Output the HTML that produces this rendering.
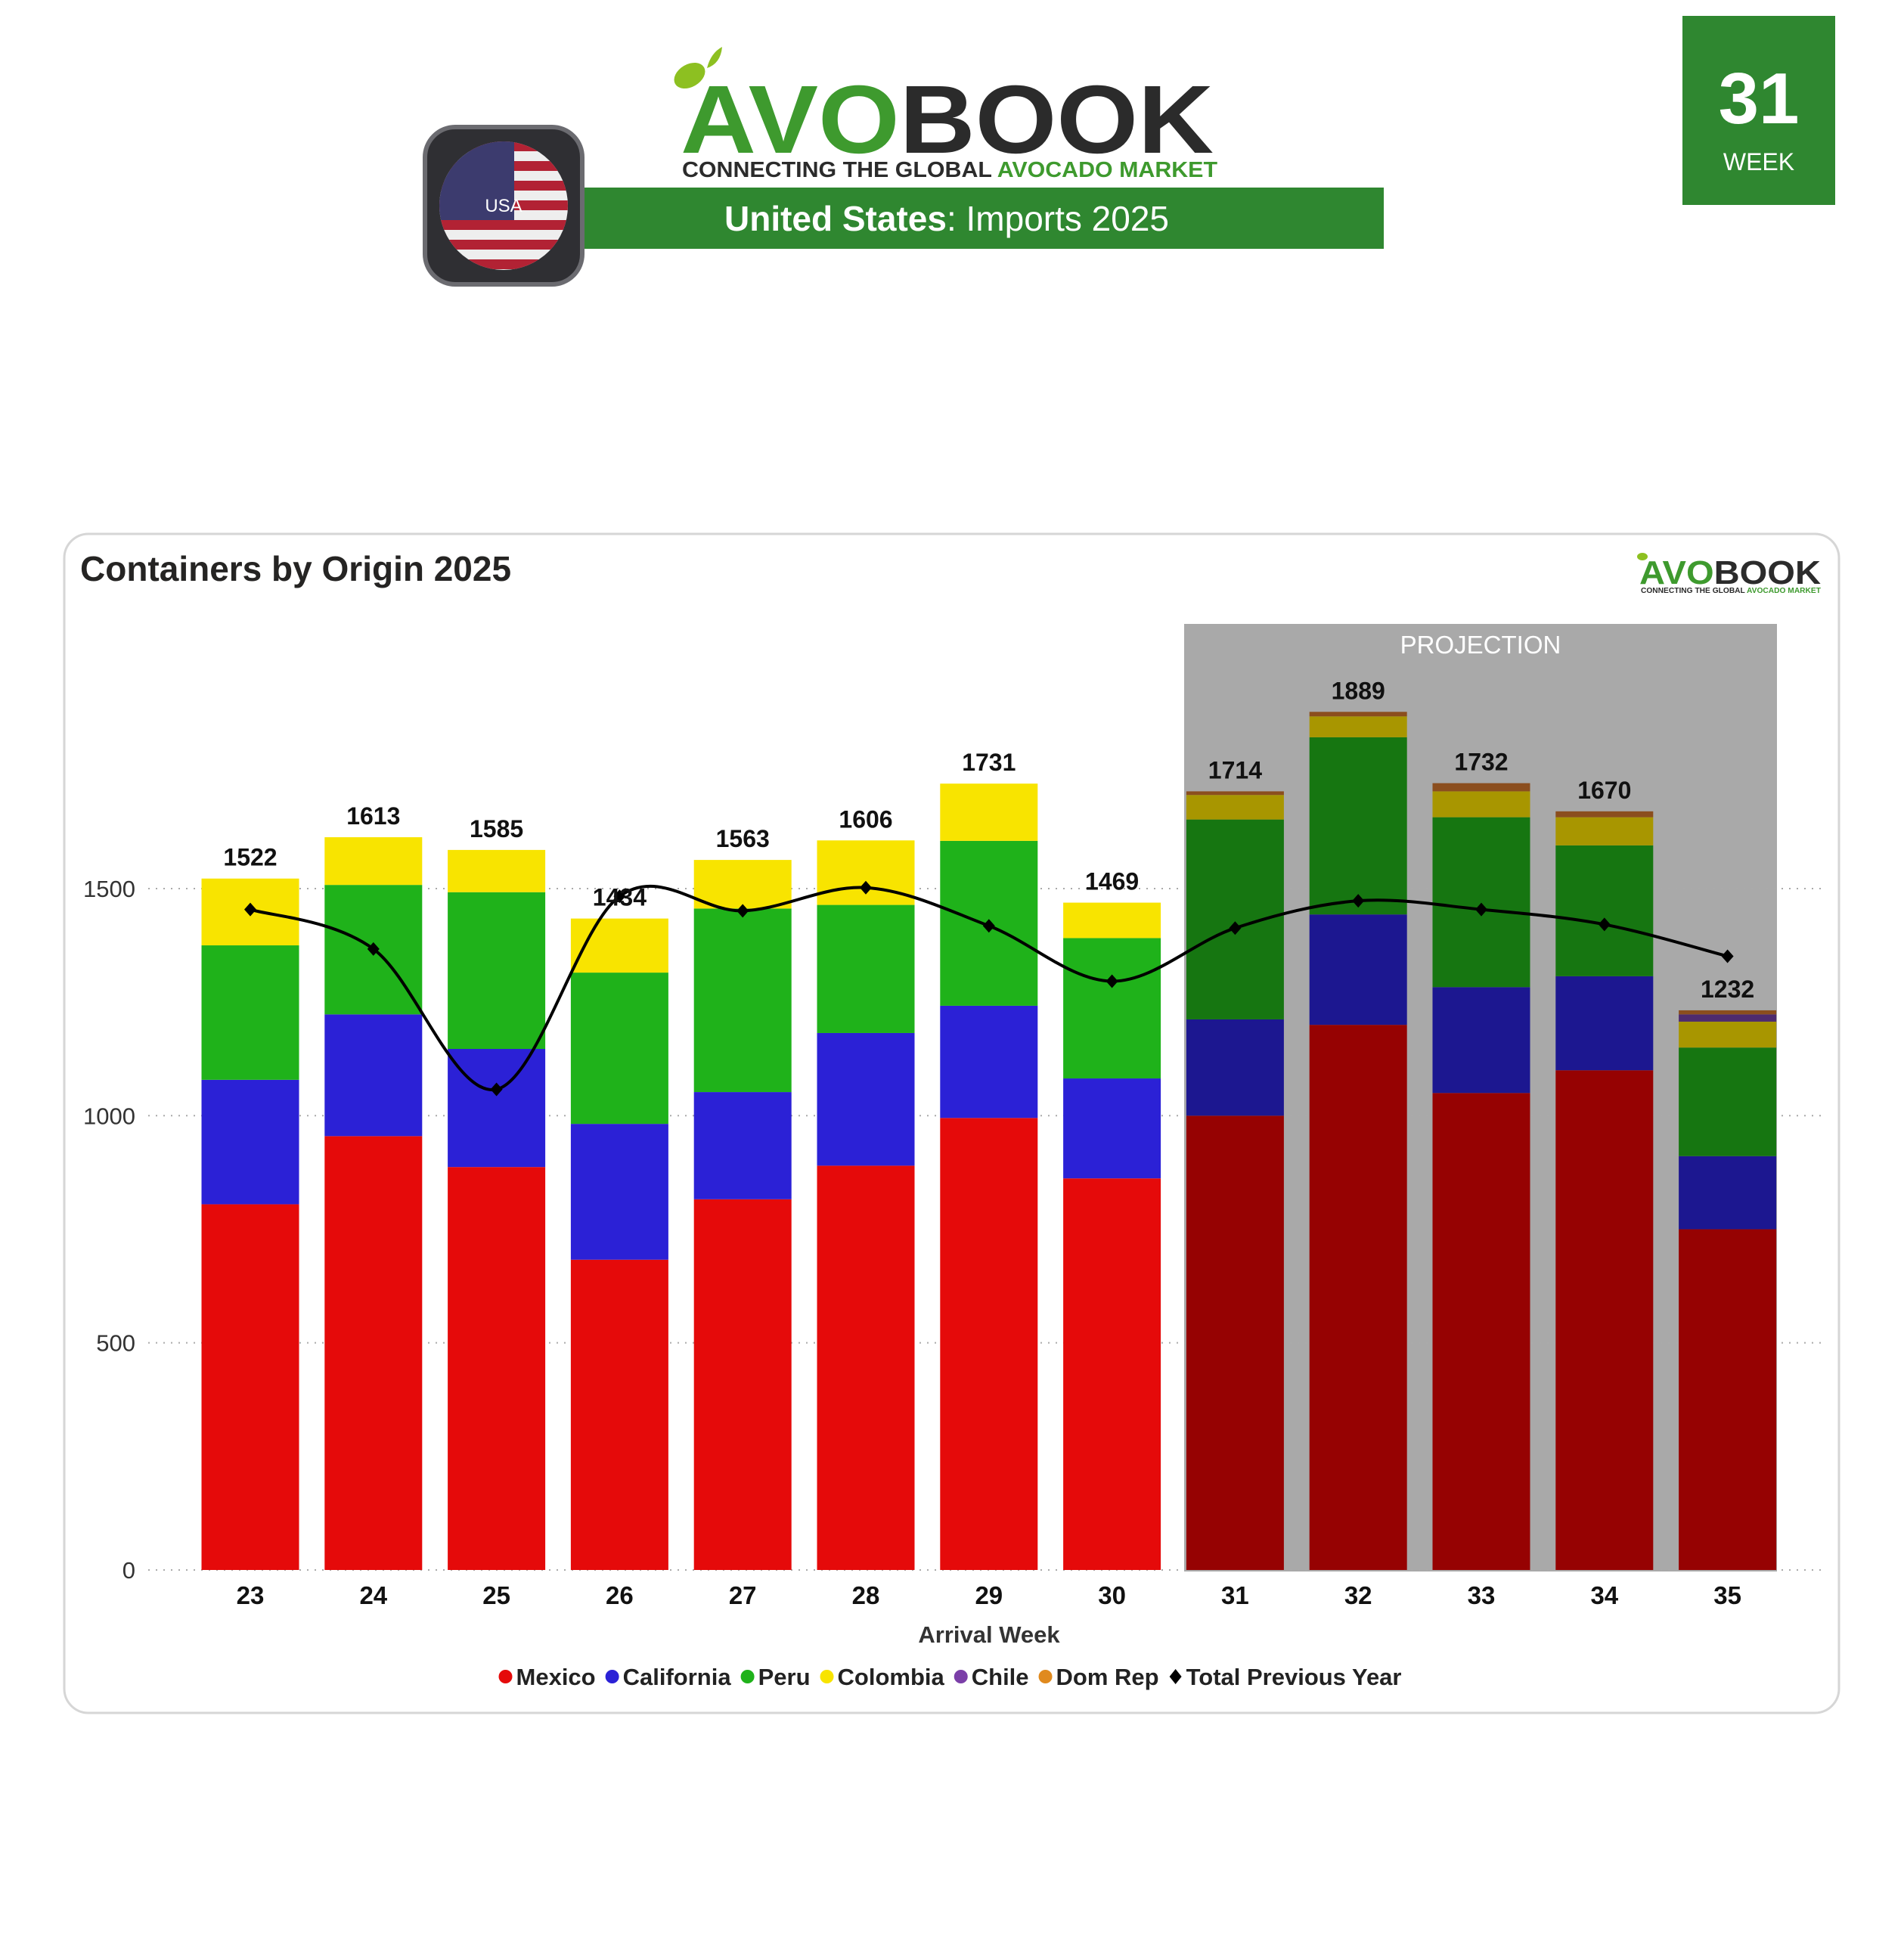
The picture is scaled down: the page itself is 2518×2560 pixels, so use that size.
<!DOCTYPE html>
<html><head><meta charset="utf-8">
<style>
html,body{margin:0;padding:0;background:#fff;}
svg{display:block;font-family:"Liberation Sans",sans-serif;}
</style></head>
<body>
<svg id="chart" width="2518" height="2560" viewBox="0 0 2518 2560" xmlns="http://www.w3.org/2000/svg">
  <g>
    <g>
      <ellipse cx="912" cy="100" rx="22" ry="15" fill="#8DC021" transform="rotate(-30 912 100)"/>
      <path d="M935 90 q5 -20 20 -28 q-2 22 -20 28z" fill="#8DC021"/>
      <text x="900" y="202" font-size="128" font-weight="bold" fill="#3E9A2E" textLength="705" lengthAdjust="spacingAndGlyphs">AVO<tspan fill="#2B2B2B">BOOK</tspan></text>
      <text x="902" y="234" font-size="29" font-weight="bold" fill="#2B2B2B" textLength="708" lengthAdjust="spacingAndGlyphs">CONNECTING THE GLOBAL <tspan fill="#3E9A2E">AVOCADO MARKET</tspan></text>
    </g>
    <rect x="766" y="248" width="1064" height="81" fill="#2F8730"/>
    <text x="1252" y="305" font-size="46" fill="#fff" text-anchor="middle"><tspan font-weight="bold">United States</tspan>: Imports 2025</text>
    <g>
      <rect x="562" y="168" width="208" height="208" rx="40" fill="#2f2f33" stroke="#6b6b70" stroke-width="6"/>
      <defs><clipPath id="fc"><circle cx="666" cy="272" r="85"/></clipPath></defs>
      <g clip-path="url(#fc)">
        <rect x="580" y="187" width="175" height="170" fill="#eee"/>
        <rect x="580" y="187" width="175" height="13" fill="#B22234"/>
        <rect x="580" y="213" width="175" height="13" fill="#B22234"/>
        <rect x="580" y="239" width="175" height="13" fill="#B22234"/>
        <rect x="580" y="265" width="175" height="13" fill="#B22234"/>
        <rect x="580" y="291" width="175" height="13" fill="#B22234"/>
        <rect x="580" y="317" width="175" height="13" fill="#B22234"/>
        <rect x="580" y="343" width="175" height="13" fill="#B22234"/>
        <rect x="580" y="187" width="100" height="104" fill="#3C3B6E"/>
      </g>
      <text x="666" y="280" font-size="24" fill="#fff" text-anchor="middle">USA</text>
    </g>
    <g>
      <rect x="2225" y="21" width="202" height="250" fill="#2F8730"/>
      <text x="2326" y="163" font-size="96" font-weight="bold" fill="#fff" text-anchor="middle">31</text>
      <text x="2326" y="225" font-size="32" fill="#fff" text-anchor="middle">WEEK</text>
    </g>
  </g>
  <rect x="85" y="706" width="2347" height="1559" rx="32" fill="#fff" stroke="#d6d6d6" stroke-width="3"/>
  <text x="106" y="768" font-size="46" font-weight="bold" fill="#252423">Containers by Origin 2025</text>
  <g>
    <ellipse cx="2172" cy="736" rx="7" ry="5" fill="#8DC021"/>
    <text x="2168" y="772" font-size="44" font-weight="bold" fill="#3E9A2E" textLength="240" lengthAdjust="spacingAndGlyphs">AVO<tspan fill="#2B2B2B">BOOK</tspan></text>
    <text x="2170" y="784" font-size="10" font-weight="bold" fill="#2B2B2B" textLength="238" lengthAdjust="spacingAndGlyphs">CONNECTING THE GLOBAL <tspan fill="#3E9A2E">AVOCADO MARKET</tspan></text>
  </g>
  <rect x="1566" y="825" width="784" height="1253" fill="#A9A9A9"/>
  <text x="1958" y="864" font-size="33" fill="#fff" text-anchor="middle">PROJECTION</text>
  <g id="grid"></g>
  <g id="bars"></g>
  <g id="line"></g>
  <g id="labels"></g>
  <text x="1308" y="2172" font-size="31" font-weight="bold" fill="#333" text-anchor="middle">Arrival Week</text>
  <g id="legend"></g>
</svg>
<script>
const weeks = [23,24,25,26,27,28,29,30,31,32,33,34,35];
const mexico = [805,955,887,683,816,890,995,862,1000,1200,1050,1100,750];
const california = [274,268,260,299,236,292,247,220,212,243,233,207,161];
const peru = [296,285,345,333,404,282,363,309,440,390,374,288,239];
const colombia = [147,105,93,119,107,142,126,78,54,46,57,62,57];
const chile = [0,0,0,0,0,0,0,0,0,0,0,0,16];
const domRep = [0,0,0,0,0,0,0,0,8,10,18,13,9];
const totals = [1522,1613,1585,1434,1563,1606,1731,1469,1714,1889,1732,1670,1232];
const prevYear = [1454,1367,1058,1483,1451,1502,1418,1296,1413,1473,1454,1421,1351];
const yTicks = [0,500,1000,1500];
const projectionStart = 31;

const NS = "http://www.w3.org/2000/svg";
const y0 = 2076, pxPer = 0.6007;
const yScale = v => y0 - v * pxPer;
const xScale = i => 331 + i * 162.8;
const barW = 129;
function mk(tag, attrs, parent){const e=document.createElementNS(NS,tag);for(const k in attrs)e.setAttribute(k,attrs[k]);parent.appendChild(e);return e;}

const grid = document.getElementById('grid');
yTicks.forEach(t=>{
  const l = mk('line',{x1:196,x2:2412,y1:yScale(t),y2:yScale(t),stroke:'#aaa','stroke-width':2,'stroke-dasharray':'2 8'},grid);
  
  
  const tx = mk('text',{x:179,y:yScale(t)+11,'font-size':31,fill:'#333','text-anchor':'end'},grid);
  tx.textContent = t;
  
  
});

const series = [
  {name:'mexico',vals:mexico,c:'#E50A0A',d:'#960202'},
  {name:'california',vals:california,c:'#2B21D6',d:'#1C1790'},
  {name:'peru',vals:peru,c:'#1FB21A',d:'#167611'},
  {name:'colombia',vals:colombia,c:'#F8E400',d:'#A89600'},
  {name:'chile',vals:chile,c:'#7B3FA8',d:'#4E2B6E'},
  {name:'dom-rep',vals:domRep,c:'#E08A1E',d:'#8B4E1E'}
];
const bars = document.getElementById('bars');
const labels = document.getElementById('labels');
weeks.forEach((w,i)=>{
  let acc = 0;
  const proj = w >= projectionStart;
  series.forEach(s=>{
    const v = s.vals[i];
    if(v<=0) return;
    const r = mk('rect',{x:xScale(i)-barW/2,y:yScale(acc+v),width:barW,height:v*pxPer,fill:proj?s.d:s.c},bars);
    
    
    acc += v;
  });
  const lb = mk('text',{x:xScale(i),y:yScale(totals[i])-17,'font-size':32,'font-weight':'bold',fill:'#111','text-anchor':'middle'},labels);
  lb.textContent = totals[i];
  
  
  const xl = mk('text',{x:xScale(i),y:2121,'font-size':33,'font-weight':'bold',fill:'#111','text-anchor':'middle'},labels);
  xl.textContent = w;
  
  
});

const pts = prevYear.map((v,i)=>[xScale(i),yScale(v)]);
let d = 'M'+pts[0][0]+' '+pts[0][1];
for(let i=0;i<pts.length-1;i++){
  const p0=pts[Math.max(0,i-1)],p1=pts[i],p2=pts[i+1],p3=pts[Math.min(pts.length-1,i+2)];
  const t=1/6;
  d+=' C'+(p1[0]+(p2[0]-p0[0])*t)+' '+(p1[1]+(p2[1]-p0[1])*t)+' '+(p2[0]-(p3[0]-p1[0])*t)+' '+(p2[1]-(p3[1]-p1[1])*t)+' '+p2[0]+' '+p2[1];
}
const lineG = document.getElementById('line');
const path = mk('path',{d:d,fill:'none',stroke:'#000','stroke-width':4},lineG);


pts.forEach((p,i)=>{
  const m = mk('path',{d:`M${p[0]} ${p[1]-9} L${p[0]+8} ${p[1]} L${p[0]} ${p[1]+9} L${p[0]-8} ${p[1]}Z`,fill:'#000'},lineG);
  
  
});

const legendItems = [['Mexico','#E50A0A','c'],['California','#2B21D6','c'],['Peru','#1FB21A','c'],['Colombia','#F8E400','c'],['Chile','#7B3FA8','c'],['Dom Rep','#E08A1E','c'],['Total Previous Year','#000','d']];
const lg = document.getElementById('legend');
const groups = [];
let cursor = 0;
legendItems.forEach((it,i)=>{
  const g = mk('g',{},lg);
  
  
  if(it[2]==='c') mk('circle',{cx:10,cy:2217,r:9,fill:it[1]},g);
  else mk('path',{d:`M10 2207 L18 2217 L10 2227 L2 2217Z`,fill:'#000'},g);
  const t = mk('text',{x:24,y:2228,'font-size':31,'font-weight':'bold',fill:'#222'},g);
  t.textContent = it[0];
  const w = 24 + t.getComputedTextLength() + 12;
  groups.push([g,cursor]);
  cursor += w;
});
const start = 1256 - (cursor-12)/2;
groups.forEach(([g,x])=>g.setAttribute('transform','translate('+(start+x)+',0)'));
</script>
</body></html>
